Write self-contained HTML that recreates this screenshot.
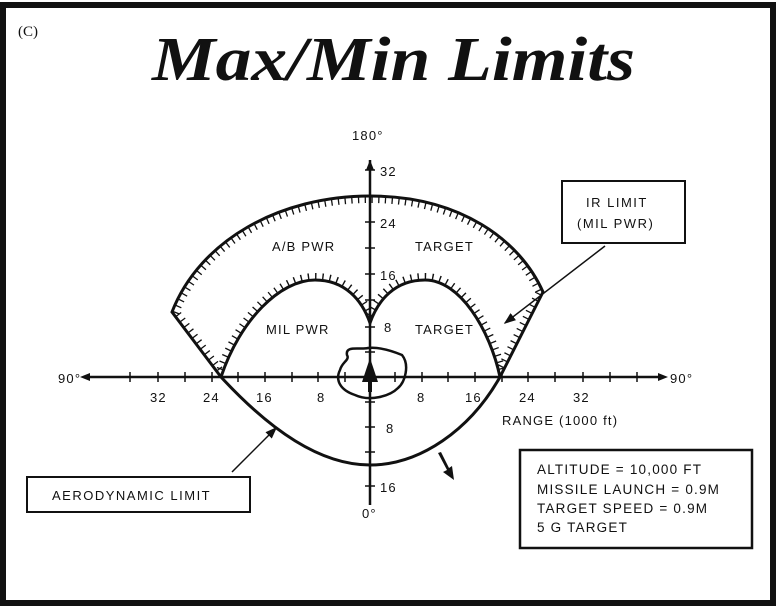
<!DOCTYPE html>
<html><head><meta charset="utf-8"><style>
html,body{margin:0;padding:0;background:#fff}
svg{display:block}
text{font-family:"Liberation Sans",sans-serif;fill:#111}
</style></head><body>
<svg width="778" height="611" viewBox="0 0 778 611" xmlns="http://www.w3.org/2000/svg">
<defs>
<clipPath id="ring"><path clip-rule="evenodd" d="M221,377 L172,312 C200,240 280,196 370,196 C460,196 520,240 543,292 L500,377 Z M221,377 C240,320 280,280 315,280 C345,280 362,300 370,323 C378,300 395,280 425,280 C460,280 490,330 500,377 Z"/></clipPath>
<marker id="ah" markerWidth="8" markerHeight="8" refX="7" refY="4" orient="auto"><path d="M0,1 L8,4 L0,7 Z" fill="#111"/></marker>
</defs>
<rect x="0" y="0" width="778" height="611" fill="#fff"/>
<rect x="3" y="5" width="770" height="598" fill="none" stroke="#111" stroke-width="6"/>
<text x="18" y="36" font-size="15" style="font-family:'Liberation Serif',serif">(C)</text>
<text x="152" y="80" font-size="62" font-style="italic" font-weight="bold" textLength="483" lengthAdjust="spacingAndGlyphs" style="font-family:'Liberation Serif',serif">Max/Min  Limits</text>

<g clip-path="url(#ring)" fill="none" stroke="#111" stroke-width="14" stroke-dasharray="1.3 5.5">
<path d="M221,377 L172,312 C200,240 280,196 370,196 C460,196 520,240 543,292 L500,377"/>
<path d="M221,377 C240,320 280,280 315,280 C345,280 362,300 370,323 C378,300 395,280 425,280 C460,280 490,330 500,377"/>
</g>
<g fill="none" stroke="#111" stroke-width="3">
<path d="M221,377 L172,312 C200,240 280,196 370,196 C460,196 520,240 543,292 L500,377"/>
<path d="M221,377 C240,320 280,280 315,280 C345,280 362,300 370,323 C378,300 395,280 425,280 C460,280 490,330 500,377"/>
<path d="M221,377 C270,430 320,465 370,465 C420,465 470,430 500,377"/>
</g>
<g stroke="#111" stroke-width="2.5">
<line x1="88" y1="377" x2="660" y2="377"/>
<line x1="370" y1="160" x2="370" y2="505"/>
</g>
<g stroke="#111" stroke-width="1.5">
<path d="M130,372v10M158,372v10M185,372v10M212,372v10M238,372v10M265,372v10M292,372v10M318,372v10M345,372v10M395,372v10M422,372v10M448,372v10M475,372v10M502,372v10M528,372v10M555,372v10M583,372v10M610,372v10M637,372v10"/>
<path d="M365,170h10M365,196h10M365,222h10M365,248h10M365,274h10M365,300h10M365,327h10M365,352h10M365,402h10M365,427h10M365,452h10M365,486h10"/>
</g>
<path d="M80,377 l10,-4 v8z M668,377 l-10,-4 v8z M370,160 l-4,10 h8z" fill="#111"/>
<path d="M347,355 C345,345 360,350 368,348 C378,347 390,350 402,355 C410,365 405,382 398,388 C390,396 370,402 355,395 C340,390 335,380 340,370 C342,362 350,360 347,355Z" fill="none" stroke="#111" stroke-width="2.5"/>
<path d="M370,358 L362,382 L378,382 Z" fill="#111"/>
<line x1="370" y1="380" x2="370" y2="392" stroke="#111" stroke-width="4"/>
<g font-size="13" letter-spacing="1.2">
<text x="352" y="140">180°</text>
<text x="380" y="176">32</text>
<text x="380" y="228">24</text>
<text x="380" y="280">16</text>
<text x="384" y="332">8</text>
<text x="386" y="433">8</text>
<text x="380" y="492">16</text>
<text x="362" y="518">0°</text>
<text x="58" y="383">90°</text>
<text x="670" y="383">90°</text>
<text x="150" y="402">32</text>
<text x="203" y="402">24</text>
<text x="256" y="402">16</text>
<text x="317" y="402">8</text>
<text x="417" y="402">8</text>
<text x="465" y="402">16</text>
<text x="519" y="402">24</text>
<text x="573" y="402">32</text>
<text x="502" y="425">RANGE (1000 ft)</text>
<text x="272" y="251">A/B PWR</text>
<text x="415" y="251">TARGET</text>
<text x="266" y="334">MIL PWR</text>
<text x="415" y="334">TARGET</text>
</g>
<rect x="562" y="181" width="123" height="62" fill="#fff" stroke="#111" stroke-width="2"/>
<g font-size="13" letter-spacing="1.5"><text x="586" y="207">IR LIMIT</text><text x="577" y="228">(MIL  PWR)</text></g>
<line x1="605" y1="246" x2="505" y2="323" stroke="#111" stroke-width="1.5" marker-end="url(#ah)"/>
<rect x="27" y="477" width="223" height="35" fill="#fff" stroke="#111" stroke-width="2"/>
<text x="52" y="500" font-size="13" letter-spacing="1.5">AERODYNAMIC LIMIT</text>
<line x1="232" y1="472" x2="276" y2="428" stroke="#111" stroke-width="1.5" marker-end="url(#ah)"/>
<path d="M438,453 L447,470 L443,472 L454,480 L452,466 L449,468 L441,452Z" fill="#111"/>
<rect x="520" y="450" width="232" height="98" fill="#fff" stroke="#111" stroke-width="2.5"/>
<g font-size="13.5" letter-spacing="1.2">
<text x="537" y="474">ALTITUDE = 10,000 FT</text>
<text x="537" y="494">MISSILE LAUNCH = 0.9M</text>
<text x="537" y="513">TARGET SPEED = 0.9M</text>
<text x="537" y="532">5 G TARGET</text>
</g>
</svg>
</body></html>
